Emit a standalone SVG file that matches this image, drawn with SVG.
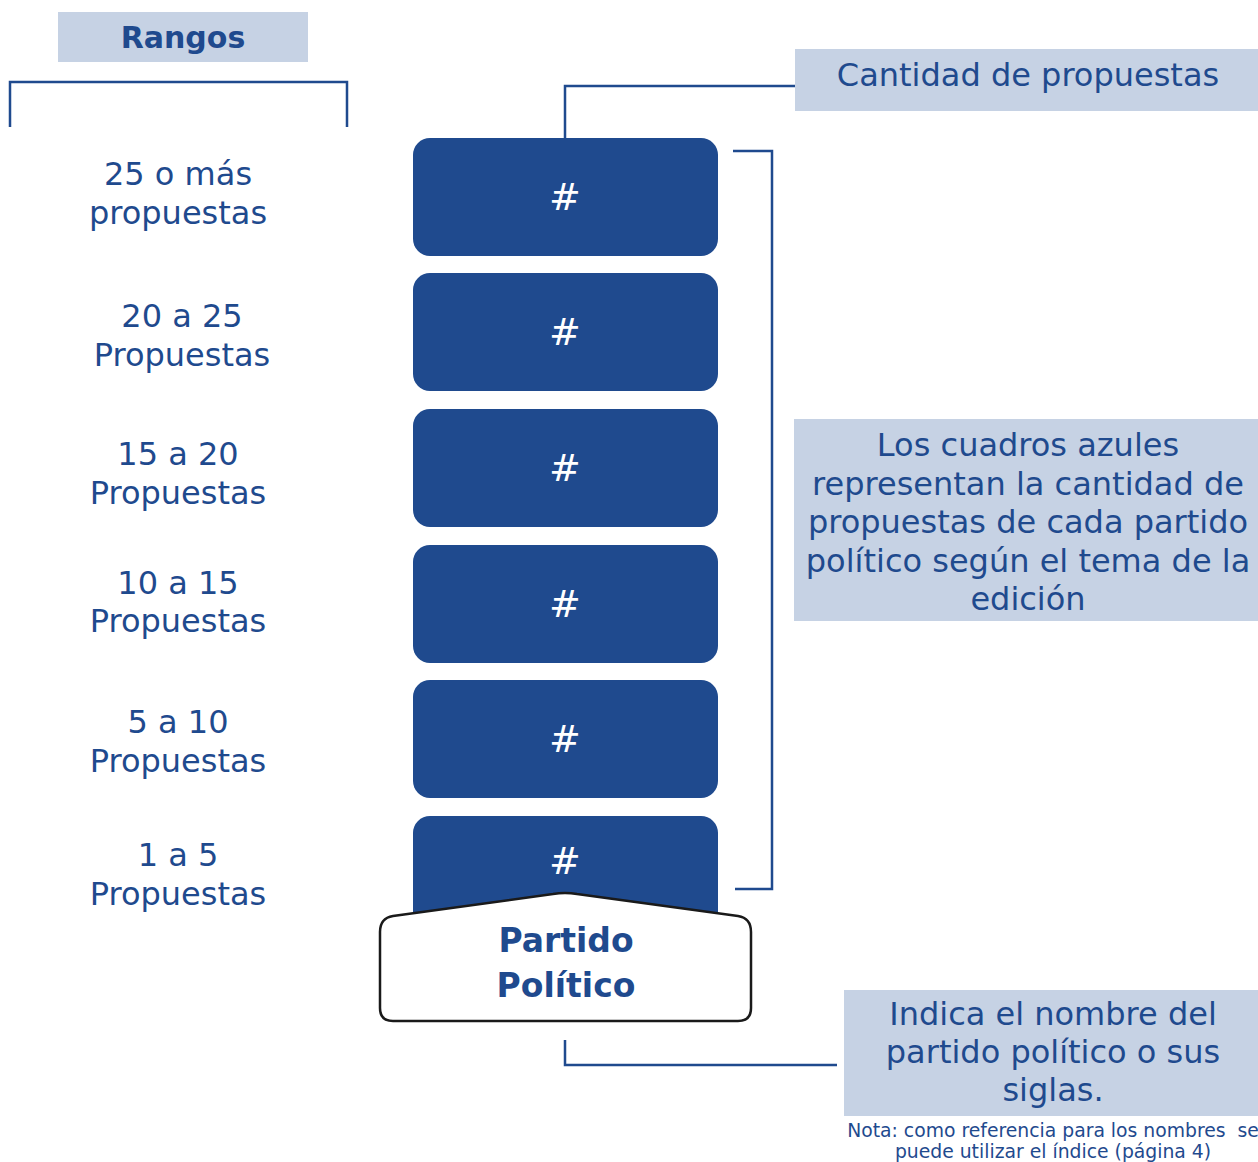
<svg xmlns="http://www.w3.org/2000/svg" width="1258" height="1162" viewBox="0 0 1258 1162">
<style>
.lbl{fill:#c6d2e4}
.t{font-family:"DejaVu Sans","Open Sans",sans-serif;fill:#1f4a8e;text-anchor:middle;font-size:32px}
.rg{font-size:30px;font-weight:bold}
.big{font-size:33px;font-weight:bold}
.nota{font-size:18.8px}
.blue{fill:#1f4a8e}
.hash{font-family:"DejaVu Sans","Open Sans",sans-serif;fill:#ffffff;text-anchor:middle;font-size:38px}
.ln{fill:none;stroke:#1f4a8e;stroke-width:2.5}
</style>
<rect width="1258" height="1162" fill="#ffffff"/>
<g id="rangos">
<rect class="lbl" x="58" y="12" width="250" height="50"/>
<text class="t rg" x="183" y="48">Rangos</text>
</g>
<g id="ranges">
<text class="t" x="178" y="185">25 o más</text>
<text class="t" x="178" y="224">propuestas</text>
<text class="t" x="182" y="327">20 a 25</text>
<text class="t" x="182" y="366">Propuestas</text>
<text class="t" x="178" y="465">15 a 20</text>
<text class="t" x="178" y="504">Propuestas</text>
<text class="t" x="178" y="594">10 a 15</text>
<text class="t" x="178" y="632">Propuestas</text>
<text class="t" x="178" y="733">5 a 10</text>
<text class="t" x="178" y="772">Propuestas</text>
<text class="t" x="178" y="866">1 a 5</text>
<text class="t" x="178" y="905">Propuestas</text>
</g>
<g id="connectors">
<path class="ln" d="M10 127 V82 H347 V127"/>
<path class="ln" d="M565 138 V86 H795"/>
<path class="ln" d="M733 151 H772 V889 H735"/>
<path class="ln" d="M565 1040 V1065 H837"/>
</g>
<g id="box1"><rect class="blue" x="413" y="138" width="305" height="118" rx="17"/><text class="hash" x="565" y="210">#</text></g>
<g id="box2"><rect class="blue" x="413" y="273" width="305" height="118" rx="17"/><text class="hash" x="565" y="345">#</text></g>
<g id="box3"><rect class="blue" x="413" y="409" width="305" height="118" rx="17"/><text class="hash" x="565" y="481">#</text></g>
<g id="box4"><rect class="blue" x="413" y="545" width="305" height="118" rx="17"/><text class="hash" x="565" y="617">#</text></g>
<g id="box5"><rect class="blue" x="413" y="680" width="305" height="118" rx="17"/><text class="hash" x="565" y="752">#</text></g>
<g id="box6"><rect class="blue" x="413" y="816" width="305" height="118" rx="17"/><text class="hash" x="565" y="874">#</text></g>
<g id="partido">
<path d="M380 932 Q380 918 393 916 L553 894 Q565 892 577 894 L738 916 Q751 918 751 932 V1008 Q751 1021 738 1021 H393 Q380 1021 380 1008 Z" fill="#ffffff" stroke="#1a1a1a" stroke-width="2.5"/>
<text class="t big" x="566" y="952">Partido</text>
<text class="t big" x="566" y="997">Político</text>
</g>
<g id="cantidad">
<rect class="lbl" x="795" y="49" width="463" height="62"/>
<text class="t" x="1028" y="86">Cantidad de propuestas</text>
</g>
<g id="cuadros">
<rect class="lbl" x="794" y="419" width="464" height="202"/>
<text class="t" x="1028" y="456">Los cuadros azules</text>
<text class="t" x="1028" y="495">representan la cantidad de</text>
<text class="t" x="1028" y="533">propuestas de cada partido</text>
<text class="t" x="1028" y="572">político según el tema de la</text>
<text class="t" x="1028" y="610">edición</text>
</g>
<g id="indica">
<rect class="lbl" x="844" y="990" width="414" height="126"/>
<text class="t" x="1053" y="1025">Indica el nombre del</text>
<text class="t" x="1053" y="1063">partido político o sus</text>
<text class="t" x="1053" y="1101">siglas.</text>
<text class="t nota" x="1053" y="1137" xml:space="preserve">Nota: como referencia para los nombres  se</text>
<text class="t nota" x="1053" y="1158">puede utilizar el índice (página 4)</text>
</g>
</svg>
